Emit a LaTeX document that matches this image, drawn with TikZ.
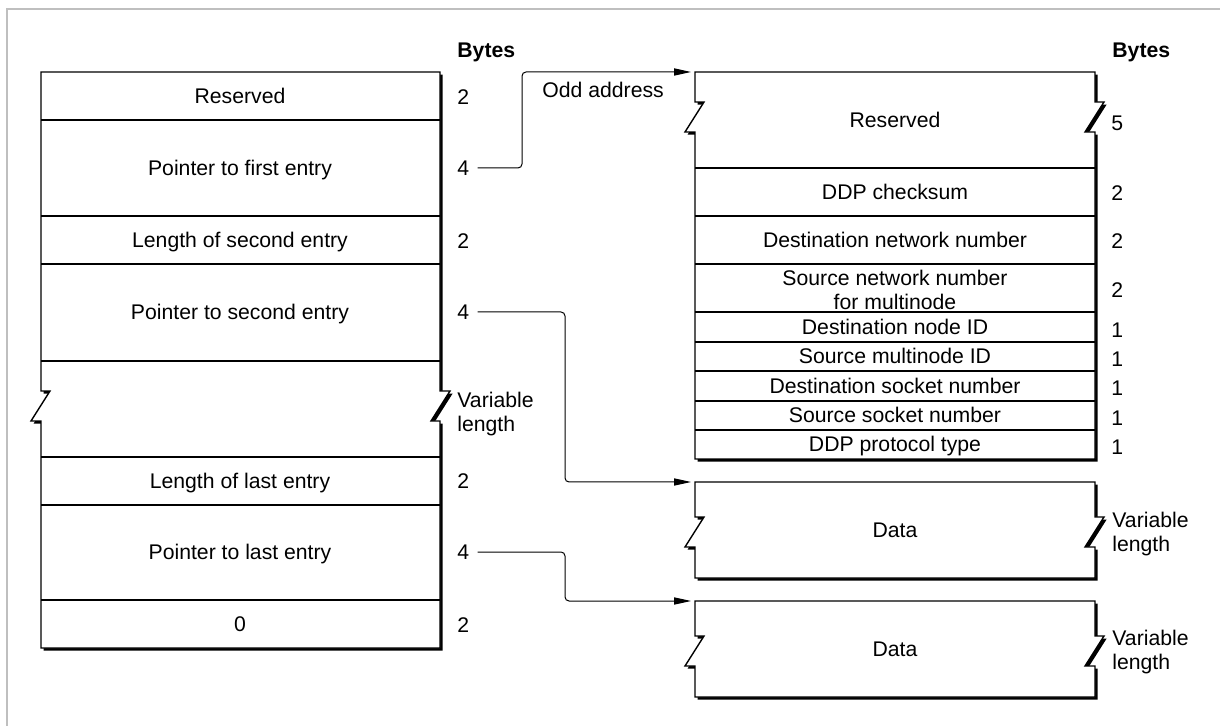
\documentclass[tikz,border=0pt]{standalone}
\usepackage{fontspec}
\setmainfont{Liberation Sans}
\usetikzlibrary{arrows.meta, shadows}

\tikzset{
  frame/.style={draw=black!25, line width=1pt},
  box/.style={draw, line width=0.7pt, fill=white, line join=miter,
    drop shadow={shadow xshift=1.3pt, shadow yshift=-1.3pt, opacity=1, fill=black}},
  sep/.style={line width=0.7pt},
  field/.style={inner sep=0pt, text height=7.5pt, text depth=0pt},
  twoline/.style={inner sep=0pt, align=center},
  bytes/.style={anchor=west, inner sep=4pt, text height=7.5pt, text depth=0pt},
  varlen/.style={anchor=west, inner sep=4pt, align=left},
  ptr/.style={line width=0.5pt, rounded corners=2pt, -{Triangle[length=8.5pt,width=3.6pt]}}
}

\begin{document}
\begin{tikzpicture}[x=0.5pt, y=-0.5pt, every node/.style={font=\fontsize{10.6}{11.8}\selectfont}]
\useasboundingbox (0,0) rectangle (1220,726);
\draw[frame] (7,726) -- (7,9) -- (1220,9);

% left table
\draw[box] (41,72) -- (440,72) -- (440,391) -- (450,391) -- (431,421) -- (440,421) -- (440,648)
  -- (41,648) -- (41,421) -- (31,421) -- (50,391) -- (41,391) -- cycle;
\draw[sep] (41,120) -- (440,120);
\draw[sep] (41,216) -- (440,216);
\draw[sep] (41,264) -- (440,264);
\draw[sep] (41,361) -- (440,361);
\draw[sep] (41,457) -- (440,457);
\draw[sep] (41,505) -- (440,505);
\draw[sep] (41,600) -- (440,600);

\node[field] (lres) at (240,96) {Reserved};
\node[field] (lp1) at (240,168) {Pointer to first entry};
\node[field] (llen2) at (240,240) {Length of second entry};
\node[field] (lp2) at (240,312) {Pointer to second entry};
\node[field] (llen3) at (240,481) {Length of last entry};
\node[field] (lp3) at (240,552) {Pointer to last entry};
\node[field] (lzero) at (240,624) {0};

\node[anchor=west, inner sep=0pt, text height=7.5pt, text depth=0pt] (lhead) at (457,50) {\bfseries Bytes};
\node[bytes] (lb1) at (449,97) {2};
\node[bytes] (lb2) at (449,168) {4};
\node[bytes] (lb3) at (449,241) {2};
\node[bytes] (lb4) at (449,312) {4};
\node[varlen] (lb5) at (449,414) {Variable\\length};
\node[bytes] (lb6) at (449,481) {2};
\node[bytes] (lb7) at (449,552) {4};
\node[bytes] (lb8) at (449,625) {2};

% header
\draw[box] (695,72) -- (1095,72) -- (1095,102) -- (1104,102) -- (1085,132) -- (1095,132) -- (1095,459)
  -- (695,459) -- (695,132) -- (685,132) -- (704,102) -- (695,102) -- cycle;
\draw[sep] (695,168) -- (1095,168);
\draw[sep] (695,216) -- (1095,216);
\draw[sep] (695,264) -- (1095,264);
\draw[sep] (695,312) -- (1095,312);
\draw[sep] (695,342) -- (1095,342);
\draw[sep] (695,371) -- (1095,371);
\draw[sep] (695,401) -- (1095,401);
\draw[sep] (695,430) -- (1095,430);

\node[field] (rres) at (895,120) {Reserved};
\node[field] (rsum) at (895,192) {DDP checksum};
\node[field] (rdnet) at (895,240) {Destination network number};
\node[twoline] (rsnet) at (895,290) {Source network number\\for multinode};
\node[field] (rdnode) at (895,327) {Destination node ID};
\node[field] (rsnode) at (895,356) {Source multinode ID};
\node[field] (rdsock) at (895,386) {Destination socket number};
\node[field] (rssock) at (895,415) {Source socket number};
\node[field] (rtype) at (895,444) {DDP protocol type};

\node[anchor=west, inner sep=0pt, text height=7.5pt, text depth=0pt] (rhead) at (1112,50) {\bfseries Bytes};
\node[bytes] (rb1) at (1103,123) {5};
\node[bytes] (rb2) at (1103,193) {2};
\node[bytes] (rb3) at (1103,241) {2};
\node[bytes] (rb4) at (1103,290) {2};
\node[bytes] (rb5) at (1103,330) {1};
\node[bytes] (rb6) at (1103,359) {1};
\node[bytes] (rb7) at (1103,388) {1};
\node[bytes] (rb8) at (1103,418) {1};
\node[bytes] (rb9) at (1103,447) {1};

% data blocks
\draw[box] (695,482) -- (1095,482) -- (1095,517) -- (1104,517) -- (1085,547) -- (1095,547) -- (1095,578)
  -- (695,578) -- (695,547) -- (685,547) -- (704,517) -- (695,517) -- cycle;
\node[field] (data1) at (895,530) {Data};
\node[varlen] (dlen1) at (1104,534) {Variable\\length};

\draw[box] (695,601) -- (1095,601) -- (1095,636) -- (1104,636) -- (1085,666) -- (1095,666) -- (1095,697)
  -- (695,697) -- (695,666) -- (685,666) -- (704,636) -- (695,636) -- cycle;
\node[field] (data2) at (895,649) {Data};
\node[varlen] (dlen2) at (1104,652) {Variable\\length};

% pointers
\coordinate (hdr) at (691,72);
\coordinate (d1in) at (691,482);
\coordinate (d2in) at (691,601);
\coordinate (k1) at (522,72);
\coordinate (k2) at (565,482);
\coordinate (k3) at (565,601);
\node[anchor=west, inner sep=0pt, text height=7.5pt, text depth=0pt] (odd) at (542,90) {Odd address};

\draw[ptr] (lb2.east) -| (k1) -- (hdr);
\draw[ptr] (lb4.east) -| (k2) -- (d1in);
\draw[ptr] (lb7.east) -| (k3) -- (d2in);
\end{tikzpicture}
\end{document}
